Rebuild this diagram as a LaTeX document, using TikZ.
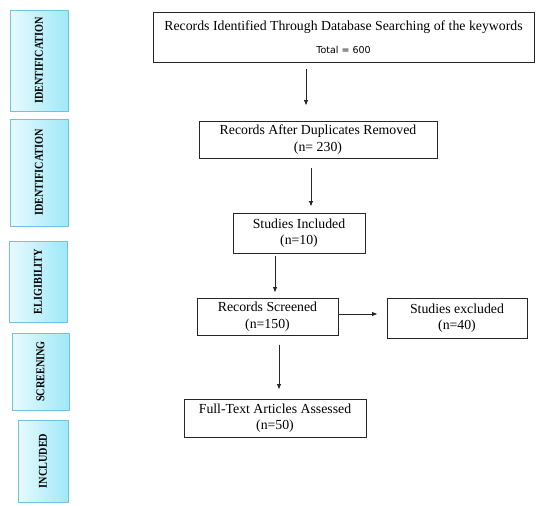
\documentclass[tikz,border=0pt]{standalone}
\usepackage{fontspec}
\setmainfont{Liberation Serif}
\newfontfamily\totalfont{DejaVu Sans}
\definecolor{phaseleft}{RGB}{232, 250, 254}
\definecolor{phaseright}{RGB}{160, 232, 248}
\definecolor{phaseborder}{RGB}{110, 196, 218}
\usetikzlibrary{arrows.meta, calc}
\newcommand{\phasetext}[1]{\scalebox{0.85}[1]{\bfseries #1}}
\tikzset{
    stagebox/.style={draw=black!85, line width=1pt, align=center,
        font=\fontsize{13.8}{16.5}\selectfont, inner sep=2pt},
    phase/.style={rotate=90, draw=phaseborder, line width=1pt,
        left color=phaseleft, right color=phaseright,
        font=\fontsize{12}{14}\selectfont, inner sep=0pt},
    flow/.style={-{Latex[length=5.5pt, width=4.5pt]}, line width=0.8pt, black!85},
}

\begin{document}
\begin{tikzpicture}[x=1pt, y=-1pt]
    \useasboundingbox (0, 0) rectangle (550, 506);
    % phases on the left
    \node[phase, minimum width=101, minimum height=58] (p1) at (39, 60.5)
        {\phasetext{IDENTIFICATION}};
    \node[phase, minimum width=107, minimum height=58] (p2) at (39, 172.5)
        {\phasetext{IDENTIFICATION}};
    \node[phase, minimum width=81, minimum height=58] (p3) at (38, 281.5)
        {\phasetext{ELIGIBILITY}};
    \node[phase, minimum width=77, minimum height=57] (p4) at (40.5, 371.5)
        {\phasetext{SCREENING}};
    \node[phase, minimum width=82, minimum height=50] (p5) at (43, 461)
        {\phasetext{INCLUDED}};
    % flow boxes
    \node[stagebox, minimum width=381, minimum height=50] (ident) at (343.5, 37)
        {Records Identified Through Database Searching of the keywords\\[7pt]
        {\totalfont\fontsize{9.5}{11}\selectfont Total = 600}};
    \node[stagebox, minimum width=238, minimum height=37] (dupl) at (318, 139.5)
        {Records After Duplicates Removed\\(n= 230)};
    \node[stagebox, minimum width=132, minimum height=40] (incl) at (299, 233)
        {Studies Included\\(n=10)};
    \node[stagebox, minimum width=141, minimum height=37] (scrn) at (267.5, 316.5)
        {Records Screened\\(n=150)};
    \node[stagebox, minimum width=140, minimum height=40] (excl) at (457, 318)
        {Studies excluded\\(n=40)};
    \node[stagebox, minimum width=182, minimum height=38] (full) at (275, 418)
        {Full-Text Articles Assessed\\(n=50)};
    % arrows
    \draw[flow, shorten <=6pt, shorten >=15pt] ([xshift=-37.5pt]ident.south)
        -- ([xshift=-37.5pt]ident.south |- dupl.north);
    \draw[flow, shorten <=9pt, shorten >=6pt] ([xshift=-7pt]dupl.south)
        -- ([xshift=-7pt]dupl.south |- incl.north);
    \draw[flow, shorten <=2pt, shorten >=5pt] ([xshift=-24pt]incl.south)
        -- ([xshift=-24pt]incl.south |- scrn.north);
    \draw[flow, shorten <=9pt, shorten >=9pt] ([xshift=11.5pt]scrn.south)
        -- ([xshift=11.5pt]scrn.south |- full.north);
    \draw[flow, shorten >=9pt] ([yshift=2.5pt]scrn.east)
        -- ([yshift=2.5pt]scrn.east -| excl.west);
\end{tikzpicture}
\end{document}
